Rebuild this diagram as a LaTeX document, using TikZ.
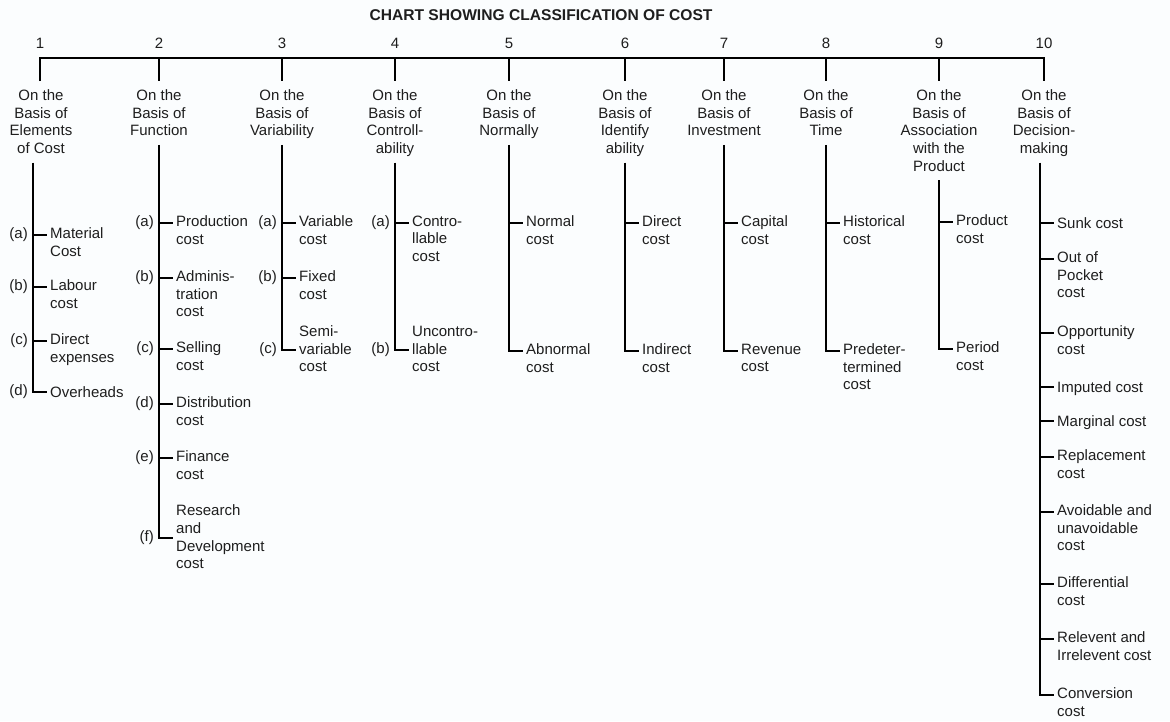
\documentclass[tikz,border=0pt]{standalone}
\usepackage{fontspec}
\setmainfont{Liberation Sans}
\definecolor{ink}{RGB}{30,30,30}
\definecolor{paper}{RGB}{251,253,254}

% item whose first line sits on the tick
\newcommand\costitem[4]{%
  \coordinate (t#1) at (#2,#3);
  \node[txt, anchor=north west] (c#1) at (#2+17,#3-7.3) {#4};}
% item whose middle sits on the tick
\newcommand\costitemmid[4]{%
  \coordinate (t#1) at (#2,#3);
  \node[txt, anchor=west] (c#1) at (#2+17,#3+1.5) {#4};}
% letter in front of a tick
\newcommand\costletter[2]{\node[letter, anchor=east] (l#1) at ([xshift=-5pt]t#1) {#2};}
% short branch from the stem to an item
\newcommand\costtick[1]{\draw[rule, shorten >=3pt] (t#1) -- (t#1 -| c#1.west);}
% stem from a heading down to its last item
\newcommand\coststem[3]{\draw[rule, shorten <=3.5pt, shorten >=3pt] (#1.south -| t#2) -- (t#3) -- (t#3 -| c#3.west);}

\begin{document}
\begin{tikzpicture}[x=1pt,y=-1pt,
  every node/.style={inner sep=0pt, text=ink},
  txt/.style={font=\fontsize{15}{17.6}\selectfont, align=left,
    execute at begin node=\strut, execute at end node=\strut},
  head/.style={txt, align=center},
  letter/.style={font=\fontsize{15}{17.6}\selectfont},
  rule/.style={draw=black, line width=1.8pt},
]
\fill[paper] (0,0) rectangle (1170,721);
\useasboundingbox (0,0) rectangle (1170,721);

\node[font=\bfseries\fontsize{15.6}{18}\selectfont] (title) at (541,15) {CHART SHOWING CLASSIFICATION OF COST};

% numbered drops from the top bar
\foreach \k/\x in {1/40,2/159,3/282,4/395,5/509,6/625,7/724,8/826,9/939,10/1044}{
  \coordinate (b\k) at (\x,58);
  \node[letter] (n\k) at (\x,43) {\k};
}

% headings
\node[head, anchor=north] (h1)  at (41,89.7)   {On the\\Basis of\\Elements\\of Cost};
\node[head, anchor=north] (h2)  at (159,89.7)  {On the\\Basis of\\Function};
\node[head, anchor=north] (h3)  at (282,89.7)  {On the\\Basis of\\Variability};
\node[head, anchor=north] (h4)  at (395,89.7)  {On the\\Basis of\\Controll-\\ability};
\node[head, anchor=north] (h5)  at (509,89.7)  {On the\\Basis of\\Normally};
\node[head, anchor=north] (h6)  at (625,89.7)  {On the\\Basis of\\Identify\\ability};
\node[head, anchor=north] (h7)  at (724,89.7)  {On the\\Basis of\\Investment};
\node[head, anchor=north] (h8)  at (826,89.7)  {On the\\Basis of\\Time};
\node[head, anchor=north] (h9)  at (939,89.7)  {On the\\Basis of\\Association\\with the\\Product};
\node[head, anchor=north] (h10) at (1044,89.7) {On the\\Basis of\\Decision-\\making};

\draw[rule, shorten <=8.7pt, shorten >=8.7pt] (b1 |- h1.north) -- (b1) -- (b10) -- (b10 |- h10.north);
\foreach \k in {2,...,9}{
  \draw[rule, shorten >=8.7pt] (b\k) -- (b\k |- h\k.north);
}

% 1 elements of cost
\costitem{1a}{33}{235}{Material\\Cost}
\costitem{1b}{33}{287}{Labour\\cost}
\costitem{1c}{33}{341}{Direct\\expenses}
\costitem{1d}{33}{392}{Overheads}
\costletter{1a}{(a)}\costletter{1b}{(b)}\costletter{1c}{(c)}\costletter{1d}{(d)}
\coststem{h1}{1a}{1d}
\costtick{1a}\costtick{1b}\costtick{1c}

% 2 function
\costitem{2a}{159}{223}{Production\\cost}
\costitem{2b}{159}{278}{Adminis-\\tration\\cost}
\costitem{2c}{159}{349}{Selling\\cost}
\costitem{2d}{159}{404}{Distribution\\cost}
\costitem{2e}{159}{458}{Finance\\cost}
\costitemmid{2f}{159}{538}{Research\\and\\Development\\cost}
\costletter{2a}{(a)}\costletter{2b}{(b)}\costletter{2c}{(c)}
\costletter{2d}{(d)}\costletter{2e}{(e)}\costletter{2f}{(f)}
\coststem{h2}{2a}{2f}
\costtick{2a}\costtick{2b}\costtick{2c}\costtick{2d}\costtick{2e}

% 3 variability
\costitem{3a}{282}{223}{Variable\\cost}
\costitem{3b}{282}{278}{Fixed\\cost}
\costitemmid{3c}{282}{350}{Semi-\\variable\\cost}
\costletter{3a}{(a)}\costletter{3b}{(b)}\costletter{3c}{(c)}
\coststem{h3}{3a}{3c}
\costtick{3a}\costtick{3b}

% 4 controllability
\costitem{4a}{395}{223}{Contro-\\llable\\cost}
\costitemmid{4b}{395}{350}{Uncontro-\\llable\\cost}
\costletter{4a}{(a)}\costletter{4b}{(b)}
\coststem{h4}{4a}{4b}
\costtick{4a}

% 5 normality
\costitem{5a}{509}{223}{Normal\\cost}
\costitem{5b}{509}{351}{Abnormal\\cost}
\coststem{h5}{5a}{5b}
\costtick{5a}

% 6 identifiability
\costitem{6a}{625}{223}{Direct\\cost}
\costitem{6b}{625}{351}{Indirect\\cost}
\coststem{h6}{6a}{6b}
\costtick{6a}

% 7 investment
\costitem{7a}{724}{223}{Capital\\cost}
\costitem{7b}{724}{351}{Revenue\\cost}
\coststem{h7}{7a}{7b}
\costtick{7a}

% 8 time
\costitem{8a}{826}{223}{Historical\\cost}
\costitem{8b}{826}{351}{Predeter-\\termined\\cost}
\coststem{h8}{8a}{8b}
\costtick{8a}

% 9 association with the product
\costitem{9a}{939}{222}{Product\\cost}
\costitem{9b}{939}{349}{Period\\cost}
\coststem{h9}{9a}{9b}
\costtick{9a}

% 10 decision-making
\costitem{10a}{1040}{223}{Sunk cost}
\costitem{10b}{1040}{259}{Out of\\Pocket\\cost}
\costitem{10c}{1040}{333}{Opportunity\\cost}
\costitem{10d}{1040}{387}{Imputed cost}
\costitem{10e}{1040}{421}{Marginal cost}
\costitem{10f}{1040}{457}{Replacement\\cost}
\costitem{10g}{1040}{512}{Avoidable and\\unavoidable\\cost}
\costitem{10h}{1040}{584}{Differential\\cost}
\costitem{10i}{1040}{639}{Relevent and\\Irrelevent cost}
\costitem{10j}{1040}{695}{Conversion\\cost}
\coststem{h10}{10a}{10j}
\costtick{10a}\costtick{10b}\costtick{10c}\costtick{10d}\costtick{10e}
\costtick{10f}\costtick{10g}\costtick{10h}\costtick{10i}
\end{tikzpicture}
\end{document}
